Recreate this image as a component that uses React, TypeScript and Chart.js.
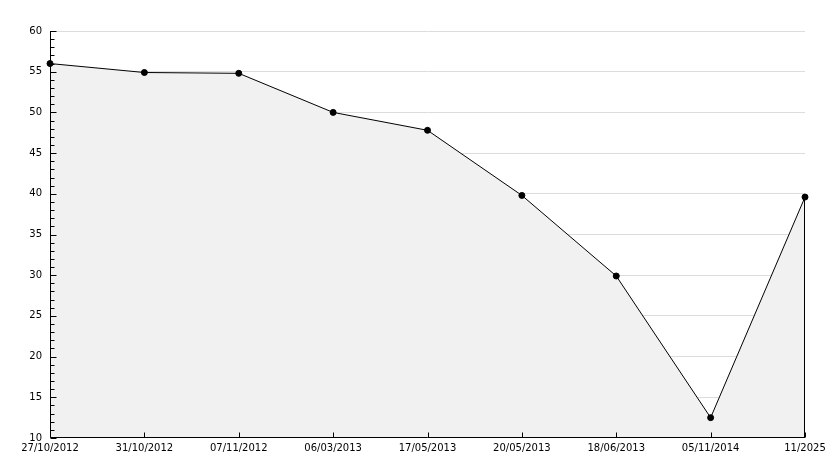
import React, { useEffect, useRef } from "react";
import { Chart, registerables } from "chart.js";

Chart.register(...registerables);

const categories = [
  "27/10/2012",
  "31/10/2012",
  "07/11/2012",
  "06/03/2013",
  "17/05/2013",
  "20/05/2013",
  "18/06/2013",
  "05/11/2014",
  "11/2025",
];
const values = [56.0, 54.9, 54.8, 50.0, 47.8, 39.8, 29.9, 12.5, 39.6];
const yMin = 10;
const yMax = 60;
const yStep = 5;
const yMinorStep = 1;

const innerTicks = {
  id: "innerTicks",
  afterDatasetsDraw(chart: any) {
    const { ctx, chartArea, scales } = chart;
    const x = scales.x;
    const y = scales.y;
    const left = Math.round(chartArea.left) + 0.5;
    const bottom = Math.round(chartArea.bottom) - 0.5;
    const top = Math.round(chartArea.top);
    ctx.save();
    ctx.strokeStyle = "#000";
    ctx.lineWidth = 1;
    ctx.beginPath();
    // axis lines
    ctx.moveTo(left, top);
    ctx.lineTo(left, bottom);
    ctx.lineTo(Math.round(chartArea.right), bottom);
    for (let v = yMin; v <= yMax; v += yMinorStep) {
      const py = Math.round(y.getPixelForValue(v)) + 0.5;
      const len = v % yStep === 0 ? 6 : 4;
      ctx.moveTo(left, py);
      ctx.lineTo(left + len, py);
    }
    for (let i = 0; i < categories.length; i++) {
      const px = Math.round(x.getPixelForValue(i)) + 0.5;
      ctx.moveTo(px, bottom);
      ctx.lineTo(px, bottom - 5);
    }
    const meta = chart.getDatasetMeta(0);
    const last = meta.data[meta.data.length - 1];
    if (last) {
      const lx = Math.round(last.x) - 0.5;
      ctx.moveTo(lx, last.y);
      ctx.lineTo(lx, bottom);
    }
    ctx.stroke();
    ctx.restore();
  },
};

export default function App() {
  const ref = useRef<HTMLCanvasElement | null>(null);
  useEffect(() => {
    document.body.style.margin = "0";
    const canvas = ref.current;
    if (!canvas) return;
    const chart = new Chart(canvas, {
      type: "line",
      data: {
        labels: categories,
        datasets: [
          {
            data: values,
            borderColor: "#000",
            borderWidth: 1,
            backgroundColor: "#f1f1f1",
            fill: "origin",
            tension: 0,
            pointRadius: 3,
            pointBackgroundColor: "#000",
            pointBorderColor: "#000",
            pointBorderWidth: 1,
          },
        ],
      },
      options: {
        animation: false,
        responsive: false,
        maintainAspectRatio: false,
        layout: { padding: { top: 31, right: 29, left: 0, bottom: 0 } },
        plugins: { legend: { display: false }, tooltip: { enabled: false } },
        scales: {
          x: {
            type: "category",
            offset: false,
            grid: { display: false, drawTicks: false },
            border: { display: false },
            ticks: {
              color: "#000",
              font: { family: "DejaVu Sans", size: 10 },
              padding: 4,
              maxRotation: 0,
              autoSkip: false,
            },
            afterFit(scale: any) {
              scale.height = 30;
            },
          },
          y: {
            min: yMin,
            max: yMax,
            grid: {
              color: (c: any) => (c.tick && c.tick.value === yMin ? "rgba(0,0,0,0)" : "#dcdcdc"),
              drawTicks: false,
              lineWidth: 1,
            },
            border: { display: false },
            ticks: {
              stepSize: yStep,
              color: "#000",
              font: { family: "DejaVu Sans", size: 10 },
              padding: 8,
            },
            afterFit(scale: any) {
              scale.width = 50;
            },
          },
        },
      },
      plugins: [innerTicks],
    });
    return () => chart.destroy();
  }, []);
  return (
    <div style={{ position: "absolute", left: 0, top: 0, width: 834, height: 468, background: "#fff" }}>
      <canvas ref={ref} width={834} height={468} style={{ width: 834, height: 468 }} />
    </div>
  );
}
